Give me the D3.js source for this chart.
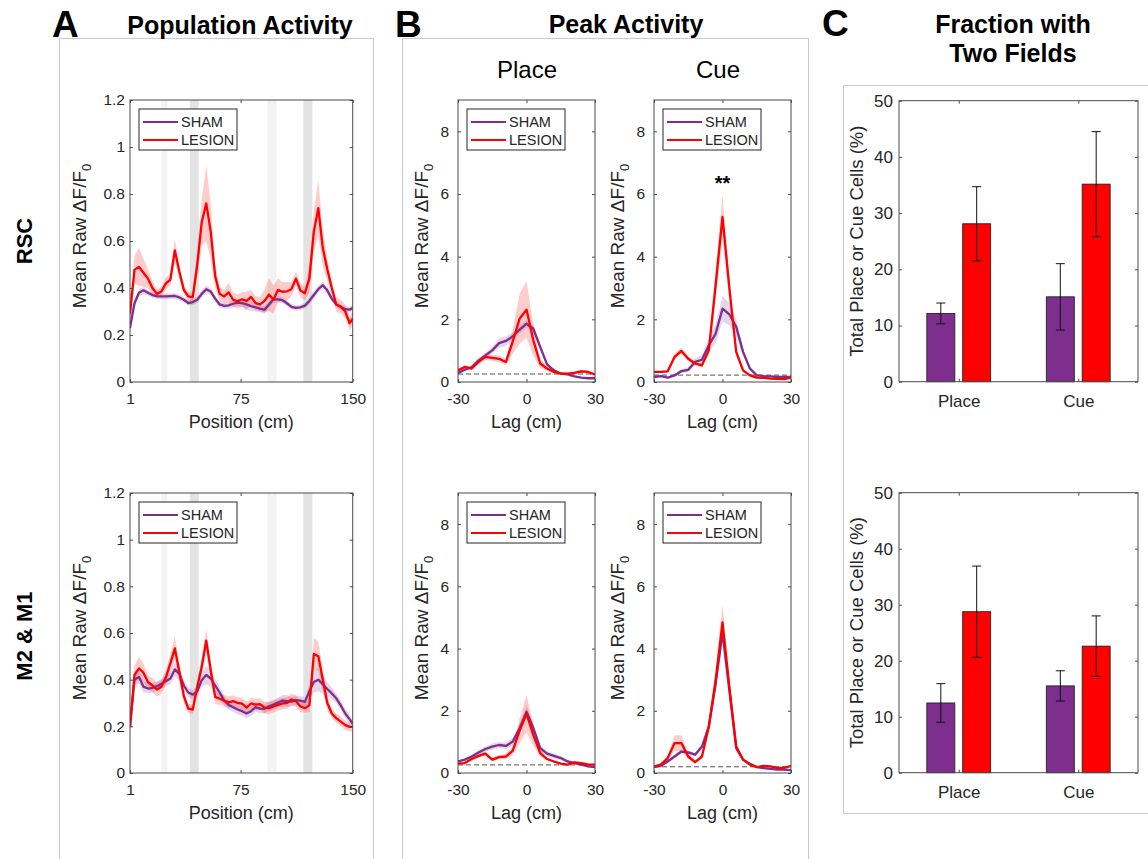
<!DOCTYPE html>
<html>
<head>
<meta charset="utf-8">
<script src="https://cdn.jsdelivr.net/npm/d3@7"></script>
<style>
  body { margin: 0; background: #fff; }
  svg { display: block; }
  text { font-family: "Liberation Sans", Arial, Helvetica, sans-serif; }
</style>
</head>
<body>
<svg id="fig" width="1148" height="859"></svg>
<script>
// ---------- Population activity along the track (cm) ----------
const positionCm = [1,4,7,10,13,16,19,22,25,28,
  31,34,37,40,43,46,49,52,55,58,
  61,64,67,70,73,76,79,82,85,88,
  91,94,97,100,103,106,109,112,115,118,
  121,124,127,130,133,136,139,142,145,148,
  150];

const rscLesion = [0.29,0.477,0.49,0.465,0.44,0.40,0.375,0.385,0.42,0.435,
  0.56,0.47,0.392,0.364,0.361,0.50,0.68,0.76,0.64,0.45,
  0.375,0.364,0.381,0.35,0.343,0.352,0.345,0.362,0.336,0.33,
  0.345,0.372,0.35,0.392,0.384,0.386,0.395,0.44,0.39,0.378,
  0.44,0.64,0.74,0.57,0.48,0.40,0.33,0.32,0.30,0.25,
  0.27];
const rscLesionSem = [0.02,0.06,0.08,0.06,0.04,0.03,0.02,0.02,0.025,0.025,
  0.05,0.03,0.02,0.02,0.02,0.06,0.10,0.16,0.12,0.05,
  0.03,0.03,0.04,0.03,0.03,0.03,0.04,0.03,0.03,0.03,
  0.05,0.07,0.06,0.05,0.04,0.04,0.03,0.03,0.03,0.03,
  0.06,0.09,0.12,0.08,0.05,0.03,0.03,0.03,0.03,0.03,
  0.03];
const rscSham = [0.23,0.335,0.38,0.39,0.38,0.37,0.365,0.364,0.364,0.365,
  0.366,0.36,0.35,0.336,0.34,0.35,0.375,0.395,0.385,0.355,
  0.33,0.324,0.326,0.333,0.338,0.336,0.33,0.323,0.318,0.312,
  0.307,0.33,0.352,0.352,0.348,0.335,0.32,0.315,0.318,0.325,
  0.345,0.37,0.395,0.412,0.39,0.355,0.33,0.32,0.31,0.308,
  0.315];
const rscShamSem = [0.01,0.015,0.015,0.015,0.012,0.012,0.012,0.012,0.012,0.012,
  0.012,0.012,0.012,0.012,0.012,0.015,0.015,0.015,0.015,0.012,
  0.012,0.012,0.015,0.015,0.015,0.018,0.02,0.02,0.018,0.015,
  0.015,0.015,0.015,0.015,0.012,0.012,0.012,0.012,0.012,0.012,
  0.015,0.015,0.015,0.015,0.015,0.012,0.012,0.012,0.012,0.012,
  0.012];

const motorLesion = [0.198,0.42,0.448,0.43,0.39,0.375,0.358,0.37,0.41,0.47,
  0.534,0.434,0.33,0.276,0.272,0.37,0.455,0.567,0.441,0.326,
  0.318,0.31,0.303,0.308,0.30,0.297,0.28,0.298,0.293,0.295,
  0.28,0.278,0.285,0.292,0.298,0.30,0.315,0.308,0.285,0.278,
  0.29,0.51,0.50,0.40,0.30,0.255,0.235,0.22,0.205,0.198,
  0.198];
const motorLesionSem = [0.02,0.04,0.05,0.04,0.03,0.03,0.03,0.03,0.03,0.04,
  0.05,0.04,0.03,0.02,0.02,0.03,0.04,0.05,0.04,0.03,
  0.025,0.025,0.025,0.025,0.025,0.025,0.025,0.025,0.025,0.025,
  0.025,0.025,0.025,0.025,0.025,0.025,0.025,0.025,0.025,0.02,
  0.03,0.07,0.06,0.05,0.03,0.02,0.02,0.02,0.02,0.02,
  0.02];
const motorSham = [0.198,0.40,0.412,0.37,0.362,0.365,0.372,0.382,0.393,0.405,
  0.444,0.425,0.375,0.345,0.336,0.35,0.398,0.42,0.405,0.375,
  0.345,0.31,0.292,0.282,0.272,0.265,0.255,0.265,0.282,0.276,
  0.275,0.286,0.293,0.302,0.31,0.308,0.306,0.312,0.31,0.305,
  0.35,0.39,0.40,0.38,0.36,0.341,0.32,0.29,0.255,0.23,
  0.212];
const motorShamSem = [0.01,0.025,0.03,0.025,0.02,0.02,0.02,0.02,0.02,0.025,
  0.03,0.03,0.025,0.02,0.02,0.025,0.03,0.04,0.035,0.03,
  0.025,0.02,0.02,0.02,0.02,0.02,0.02,0.02,0.02,0.02,
  0.02,0.02,0.02,0.02,0.025,0.025,0.02,0.02,0.02,0.02,
  0.03,0.045,0.05,0.04,0.03,0.025,0.02,0.02,0.02,0.02,
  0.015];

// Cue zones on the track [start, end] in cm
const cueZones = [[22, 26], [41, 47], [93, 99], [117, 123]];

const positionTicks = [1, 75, 150];
const activityTicks = [0, 0.2, 0.4, 0.6, 0.8, 1, 1.2];

// ---------- Peak-aligned activity (lag in cm) ----------
const lagCm = [-30,-27,-24,-21,-18,-15,-12,-9,-6,-3,0,3,6,9,12,15,18,21,24,27,30];
const lagTicks = [-30, 0, 30];
const peakTicks = [0, 2, 4, 6, 8];

const placeRscLesion = [0.37,0.48,0.43,0.64,0.8,0.77,0.74,0.64,1.3,2.02,2.31,1.33,0.59,0.43,0.32,0.27,0.27,0.29,0.34,0.32,0.24];
const placeRscLesionSem = [0.05,0.06,0.05,0.08,0.1,0.1,0.1,0.1,0.4,0.8,0.9,0.5,0.15,0.08,0.05,0.04,0.04,0.05,0.05,0.05,0.04];
const placeRscSham = [0.29,0.39,0.48,0.69,0.85,1.01,1.24,1.31,1.46,1.67,1.86,1.70,1.12,0.56,0.37,0.27,0.24,0.18,0.14,0.12,0.12];
const placeRscShamSem = [0.03,0.04,0.05,0.06,0.08,0.1,0.15,0.15,0.12,0.12,0.12,0.12,0.1,0.06,0.04,0.03,0.03,0.03,0.02,0.02,0.02];

const cueRscLesion = [0.32,0.32,0.34,0.8,0.99,0.74,0.59,0.53,1.01,3.1,5.27,3.0,0.96,0.37,0.21,0.14,0.13,0.11,0.1,0.09,0.14];
const cueRscLesionSem = [0.03,0.03,0.04,0.1,0.1,0.08,0.06,0.06,0.15,0.5,0.7,0.4,0.12,0.05,0.03,0.02,0.02,0.02,0.02,0.02,0.02];
const cueRscSham = [0.16,0.19,0.14,0.21,0.35,0.39,0.64,0.71,1.17,1.54,2.34,2.16,1.76,0.96,0.43,0.21,0.19,0.18,0.16,0.16,0.16];
const cueRscShamSem = [0.03,0.03,0.03,0.04,0.06,0.08,0.12,0.15,0.2,0.3,0.4,0.35,0.25,0.12,0.06,0.03,0.03,0.03,0.02,0.02,0.02];

const placeMotorLesion = [0.3,0.32,0.45,0.55,0.62,0.43,0.51,0.53,0.72,1.36,1.91,1.22,0.64,0.45,0.37,0.3,0.27,0.34,0.32,0.27,0.27];
const placeMotorLesionSem = [0.03,0.03,0.05,0.06,0.07,0.06,0.07,0.08,0.15,0.4,0.6,0.35,0.12,0.06,0.04,0.03,0.03,0.03,0.03,0.03,0.03];
const placeMotorSham = [0.37,0.43,0.53,0.66,0.77,0.85,0.9,0.87,1.01,1.44,1.97,1.44,0.8,0.62,0.55,0.48,0.37,0.32,0.27,0.21,0.19];
const placeMotorShamSem = [0.03,0.04,0.05,0.07,0.08,0.1,0.1,0.1,0.12,0.15,0.2,0.15,0.1,0.08,0.08,0.07,0.05,0.04,0.03,0.03,0.03];

const cueMotorLesion = [0.21,0.27,0.48,0.96,0.96,0.53,0.35,0.53,1.49,2.98,4.84,2.77,0.85,0.43,0.27,0.19,0.23,0.21,0.16,0.16,0.23];
const cueMotorLesionSem = [0.03,0.04,0.08,0.25,0.25,0.1,0.05,0.06,0.15,0.35,0.55,0.3,0.1,0.05,0.03,0.03,0.03,0.03,0.03,0.03,0.03];
const cueMotorSham = [0.19,0.23,0.37,0.53,0.69,0.66,0.59,0.85,1.49,2.87,4.52,2.66,0.8,0.43,0.3,0.19,0.16,0.13,0.11,0.11,0.09];
const cueMotorShamSem = [0.02,0.03,0.04,0.05,0.06,0.06,0.06,0.08,0.12,0.2,0.3,0.2,0.08,0.04,0.03,0.02,0.02,0.02,0.02,0.02,0.02];

// Shuffle baseline levels (dashed) for place / cue panels
const baselineRsc = [0.255, 0.22];
const baselineMotor = [0.26, 0.2];

// ---------- Fraction of cells with two fields (%) ----------
const cellTypes = ['Place', 'Cue'];
const percentTicks = [0, 10, 20, 30, 40, 50];
const twoFieldRscSham = [12.15, 15.1];
const twoFieldRscShamSem = [1.85, 5.9];
const twoFieldRscLesion = [28.1, 35.15];
const twoFieldRscLesionSem = [6.6, 9.35];
const twoFieldMotorSham = [12.45, 15.5];
const twoFieldMotorShamSem = [3.45, 2.7];
const twoFieldMotorLesion = [28.75, 22.6];
const twoFieldMotorLesionSem = [8.15, 5.4];

const groupNames = ['SHAM', 'LESION'];

// ---------- drawing ----------
const SHAM = '#7E2F8E', LESION = '#FF0000';
const AXIS = '#4a4a4a', INK = '#262626', PANEL = '#c9c9c9';
const svg = d3.select('#fig');

// Panel frames
function panelFrame(x0, y0, x1, y1) {
  svg.append('path')
    .attr('d', `M${x0},${y1} L${x0},${y0} L${x1},${y0} L${x1},${y1}` + (y1 < 859 ? ` Z` : ''))
    .attr('fill', 'none').attr('stroke', PANEL).attr('stroke-width', 1);
}
panelFrame(59.5, 38.5, 373.5, 870);
panelFrame(402.5, 38.5, 808.5, 870);
panelFrame(843.5, 85.5, 1160, 813.5);

function styleAxis(g, size) {
  g.select('.domain').remove();
  g.selectAll('line').attr('stroke', AXIS).attr('stroke-width', 1);
  g.selectAll('text').attr('fill', INK).attr('font-size', size)
    .attr('font-family', '"Liberation Sans", Arial, sans-serif');
}

function boxAxes(g, x, y, o) {
  const [xa, xb] = x.range();
  const [ya, yb] = y.range(); // ya bottom, yb top
  const bottom = g.append('g').attr('transform', `translate(0,${ya})`)
    .call(d3.axisBottom(x).tickValues(o.xTicks).tickSizeInner(-3).tickSizeOuter(0)
      .tickPadding(o.xPad).tickFormat(o.xFormat));
  styleAxis(bottom, o.font);
  const left = g.append('g').attr('transform', `translate(${xa},0)`)
    .call(d3.axisLeft(y).tickValues(o.yTicks).tickSizeInner(-3).tickSizeOuter(0)
      .tickPadding(o.yPad).tickFormat(d => String(d)));
  styleAxis(left, o.font);
  const right = g.append('g').attr('transform', `translate(${xb},0)`)
    .call(d3.axisRight(y).tickValues(o.yTicks).tickSizeInner(-3).tickSizeOuter(0).tickFormat(''));
  styleAxis(right, o.font);
  const top = g.append('g').attr('transform', `translate(0,${yb})`)
    .call(d3.axisTop(x).tickValues(o.xTicks).tickSizeInner(-3).tickSizeOuter(0).tickFormat(''));
  styleAxis(top, o.font);
  g.append('rect').attr('x', xa).attr('y', yb).attr('width', xb - xa).attr('height', ya - yb)
    .attr('fill', 'none').attr('stroke', AXIS).attr('stroke-width', 1);
}

function yLabelDF(g, x, y) {
  const t = g.append('text')
    .attr('transform', `translate(${x},${y}) rotate(-90)`)
    .attr('text-anchor', 'middle').attr('font-size', 19).attr('fill', INK);
  t.append('tspan').text('Mean Raw \u0394F/F');
  t.append('tspan').text('0').attr('font-size', 13).attr('dy', '0.35em');
}

function legend(g, bx, by) {
  g.append('rect').attr('x', bx).attr('y', by).attr('width', 98).attr('height', 41)
    .attr('fill', '#fff').attr('stroke', '#262626').attr('stroke-width', 1);
  const colors = [SHAM, LESION];
  groupNames.forEach((name, i) => {
    const ly = by + 13 + i * 18;
    g.append('line').attr('x1', bx + 4).attr('x2', bx + 39).attr('y1', ly).attr('y2', ly)
      .attr('stroke', colors[i]).attr('stroke-width', 2.2);
    g.append('text').attr('x', bx + 42).attr('y', ly + 5.2).text(name)
      .attr('font-size', 14.5).attr('fill', INK);
  });
}

function tracePanel(o) {
  const g = svg.append('g');
  const x = d3.scaleLinear().domain(o.xDomain).range([o.x0, o.x1]);
  const y = d3.scaleLinear().domain(o.yDomain).range([o.yBot, o.yTop]);
  const clipId = 'clip' + Math.round(o.x0) + '_' + Math.round(o.yTop);
  g.append('clipPath').attr('id', clipId).append('rect')
    .attr('x', o.x0).attr('y', o.yTop).attr('width', o.x1 - o.x0).attr('height', o.yBot - o.yTop);
  const plot = g.append('g').attr('clip-path', `url(#${clipId})`);

  if (o.zones) {
    o.zones.forEach((z, i) => {
      plot.append('rect').attr('x', x(z[0])).attr('y', o.yTop)
        .attr('width', x(z[1]) - x(z[0])).attr('height', o.yBot - o.yTop)
        .attr('fill', i % 2 === 0 ? '#f3f3f3' : '#e3e3e3');
    });
  }
  if (o.baseline !== undefined) {
    plot.append('line').attr('x1', o.x0).attr('x2', o.x1)
      .attr('y1', y(o.baseline)).attr('y2', y(o.baseline))
      .attr('stroke', '#555').attr('stroke-width', 1).attr('stroke-dasharray', '5,3');
  }
  const series = [
    { v: o.sham, e: o.shamSem, c: SHAM },
    { v: o.lesion, e: o.lesionSem, c: LESION }
  ];
  const area = d3.area().x((d, i) => x(o.xs[i]))
    .y0(d => y(d[0] - d[1])).y1(d => y(d[0] + d[1]));
  const line = d3.line().x((d, i) => x(o.xs[i])).y(d => y(d));
  series.forEach(s => {
    plot.append('path').datum(s.v.map((v, i) => [v, s.e[i]])).attr('d', area)
      .attr('fill', s.c).attr('fill-opacity', 0.2).attr('stroke', 'none');
  });
  series.forEach(s => {
    plot.append('path').datum(s.v).attr('d', line)
      .attr('fill', 'none').attr('stroke', s.c).attr('stroke-width', 2.3)
      .attr('stroke-linejoin', 'round');
  });

  boxAxes(g, x, y, { xTicks: o.xTicks, yTicks: o.yTicks, xPad: 11, yPad: o.yPad,
    xFormat: d => String(d), font: 15.5 });
  yLabelDF(g, o.yLabelX, (o.yTop + o.yBot) / 2 - 5);
  g.append('text').attr('x', (o.x0 + o.x1) / 2).attr('y', o.yBot + 46)
    .attr('text-anchor', 'middle').attr('font-size', 18).attr('fill', INK).text(o.xLabel);
  legend(g, o.x0 + 9, o.yTop + 9);
  return { g, x, y };
}

function barPanel(o) {
  const g = svg.append('g');
  const x = d3.scaleLinear().domain([0.5, 2.5]).range([o.x0, o.x1]);
  const y = d3.scaleLinear().domain([0, 50]).range([o.yBot, o.yTop]);
  const halfW = 0.117, shift = 0.15;
  const groups = [
    { v: o.sham, e: o.shamSem, c: SHAM, dx: -shift },
    { v: o.lesion, e: o.lesionSem, c: LESION, dx: shift }
  ];
  groups.forEach(s => {
    cellTypes.forEach((name, i) => {
      const cx = i + 1 + s.dx;
      g.append('rect').attr('x', x(cx - halfW)).attr('y', y(s.v[i]))
        .attr('width', x(cx + halfW) - x(cx - halfW)).attr('height', y(0) - y(s.v[i]))
        .attr('fill', s.c).attr('stroke', '#222').attr('stroke-width', 0.9);
    });
  });
  groups.forEach(s => {
    cellTypes.forEach((name, i) => {
      const px = x(i + 1 + s.dx);
      const lo = y(s.v[i] - s.e[i]), hi = y(s.v[i] + s.e[i]);
      g.append('line').attr('x1', px).attr('x2', px).attr('y1', lo).attr('y2', hi)
        .attr('stroke', '#111').attr('stroke-width', 1);
      [lo, hi].forEach(yy => g.append('line').attr('x1', px - 4.5).attr('x2', px + 4.5)
        .attr('y1', yy).attr('y2', yy).attr('stroke', '#111').attr('stroke-width', 1));
    });
  });
  boxAxes(g, x, y, { xTicks: [1, 2], yTicks: percentTicks, xPad: 13, yPad: 6,
    xFormat: d => cellTypes[d - 1], font: 17 });
  g.append('text')
    .attr('transform', `translate(${o.labelX},${(o.yTop + o.yBot) / 2}) rotate(-90)`)
    .attr('text-anchor', 'middle').attr('font-size', 18.5).attr('fill', INK)
    .text('Total Place or Cue Cells (%)');
}

// Row geometry
const rows = [{ top: 100, bot: 382 }, { top: 493, bot: 773 }];

// A: population activity
tracePanel({ x0: 130, x1: 352.7, yTop: rows[0].top, yBot: rows[0].bot,
  xDomain: [1, 150], yDomain: [0, 1.2], xs: positionCm, xTicks: positionTicks, yTicks: activityTicks,
  yPad: 5, yLabelX: 86, xLabel: 'Position (cm)', zones: cueZones,
  sham: rscSham, shamSem: rscShamSem, lesion: rscLesion, lesionSem: rscLesionSem });
tracePanel({ x0: 130, x1: 352.7, yTop: rows[1].top, yBot: rows[1].bot,
  xDomain: [1, 150], yDomain: [0, 1.2], xs: positionCm, xTicks: positionTicks, yTicks: activityTicks,
  yPad: 5, yLabelX: 86, xLabel: 'Position (cm)', zones: cueZones,
  sham: motorSham, shamSem: motorShamSem, lesion: motorLesion, lesionSem: motorLesionSem });

// B: peak activity, place and cue cells
tracePanel({ x0: 458, x1: 595, yTop: rows[0].top, yBot: rows[0].bot,
  xDomain: [-30, 30], yDomain: [0, 9], xs: lagCm, xTicks: lagTicks, yTicks: peakTicks,
  yPad: 9, yLabelX: 428, xLabel: 'Lag (cm)', baseline: baselineRsc[0],
  sham: placeRscSham, shamSem: placeRscShamSem, lesion: placeRscLesion, lesionSem: placeRscLesionSem });
const cueTop = tracePanel({ x0: 654, x1: 791, yTop: rows[0].top, yBot: rows[0].bot,
  xDomain: [-30, 30], yDomain: [0, 9], xs: lagCm, xTicks: lagTicks, yTicks: peakTicks,
  yPad: 9, yLabelX: 624, xLabel: 'Lag (cm)', baseline: baselineRsc[1],
  sham: cueRscSham, shamSem: cueRscShamSem, lesion: cueRscLesion, lesionSem: cueRscLesionSem });
tracePanel({ x0: 458, x1: 595, yTop: rows[1].top, yBot: rows[1].bot,
  xDomain: [-30, 30], yDomain: [0, 9], xs: lagCm, xTicks: lagTicks, yTicks: peakTicks,
  yPad: 9, yLabelX: 428, xLabel: 'Lag (cm)', baseline: baselineMotor[0],
  sham: placeMotorSham, shamSem: placeMotorShamSem, lesion: placeMotorLesion, lesionSem: placeMotorLesionSem });
tracePanel({ x0: 654, x1: 791, yTop: rows[1].top, yBot: rows[1].bot,
  xDomain: [-30, 30], yDomain: [0, 9], xs: lagCm, xTicks: lagTicks, yTicks: peakTicks,
  yPad: 9, yLabelX: 624, xLabel: 'Lag (cm)', baseline: baselineMotor[1],
  sham: cueMotorSham, shamSem: cueMotorShamSem, lesion: cueMotorLesion, lesionSem: cueMotorLesionSem });

// significance marker over the lesion cue peak
cueTop.g.append('text').attr('x', cueTop.x(0)).attr('y', 190)
  .attr('text-anchor', 'middle').attr('font-size', 20).attr('font-weight', 'bold')
  .attr('fill', '#000').text('**');

// C: fraction with two fields
barPanel({ x0: 899, x1: 1138, yTop: 100.7, yBot: 381.7, labelX: 863,
  sham: twoFieldRscSham, shamSem: twoFieldRscShamSem, lesion: twoFieldRscLesion, lesionSem: twoFieldRscLesionSem });
barPanel({ x0: 899, x1: 1138, yTop: 492.7, yBot: 772.7, labelX: 863,
  sham: twoFieldMotorSham, shamSem: twoFieldMotorShamSem, lesion: twoFieldMotorLesion, lesionSem: twoFieldMotorLesionSem });

// Headings
function heading(x, y, txt, size, anchor) {
  svg.append('text').attr('x', x).attr('y', y).attr('text-anchor', anchor || 'middle')
    .attr('font-size', size).attr('font-weight', 'bold').attr('fill', '#000').text(txt);
}
heading(52, 37, 'A', 37, 'start');
heading(395, 37, 'B', 37, 'start');
heading(822, 36, 'C', 37, 'start');
heading(240, 34, 'Population Activity', 25);
heading(626, 33, 'Peak Activity', 25);
heading(1013, 33, 'Fraction with', 25);
heading(1013, 62, 'Two Fields', 25);

svg.append('text').attr('x', 527).attr('y', 78).attr('text-anchor', 'middle')
  .attr('font-size', 24).attr('fill', '#000').text('Place');
svg.append('text').attr('x', 718).attr('y', 78).attr('text-anchor', 'middle')
  .attr('font-size', 24).attr('fill', '#000').text('Cue');

// Row labels
[['RSC', 241], ['M2 & M1', 636]].forEach(([t, cy]) => {
  svg.append('text').attr('transform', `translate(32,${cy}) rotate(-90)`)
    .attr('text-anchor', 'middle').attr('font-size', 22).attr('font-weight', 'bold')
    .attr('fill', '#000').text(t);
});
</script>
</body>
</html>
